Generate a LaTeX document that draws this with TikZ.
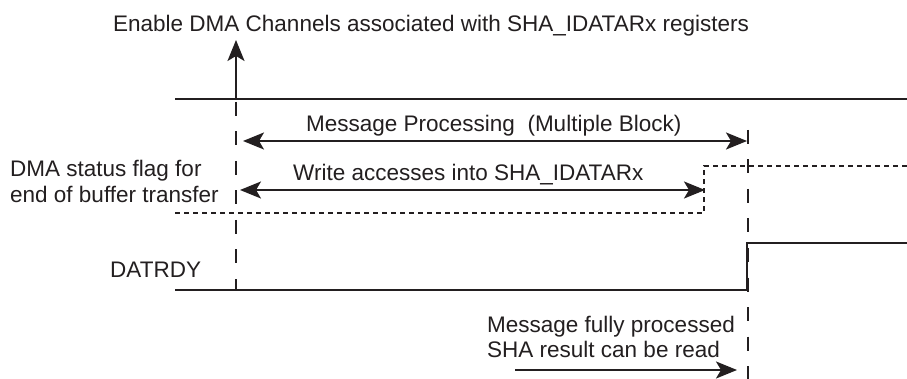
\documentclass[tikz,border=0pt]{standalone}
\usepackage{fontspec}
\setmainfont{Liberation Sans}
\usetikzlibrary{arrows.meta}
\definecolor{ink}{RGB}{35,31,32}
\begin{document}
\begin{tikzpicture}[x=1pt,y=-1pt,
  sig/.style={line width=2pt, draw=ink},
  guide/.style={line width=1.4pt, draw=ink, dash pattern=on 14pt off 15.5pt},
  flagline/.style={line width=2pt, draw=ink, dash pattern=on 5pt off 4pt},
  tipshape/.tip={Stealth[length=21pt,width=17pt,inset=5pt]},
  arr/.style={sig, -tipshape},
  darr/.style={sig, tipshape-tipshape},
  lbl/.style={font=\fontsize{22.5}{27}\selectfont, text=ink, inner sep=0pt, anchor=base west}]
\useasboundingbox (0,0) rectangle (907,379);
\fill[white] (0,0) rectangle (907,379);

% labels
\node[lbl] (enable) at (113,32) {Enable DMA Channels associated with SHA\_IDATARx registers};
\node[lbl] (msgp) at (306,132) {Message Processing\ \ (Multiple Block)};
\node[lbl] (wacc) at (293,181) {Write accesses into SHA\_IDATARx};
\node[lbl] (dma1) at (10,177) {DMA status flag for};
\node[lbl] (dma2) at (10,203) {end of buffer transfer};
\node[lbl] (datrdy) at (110,277) {DATRDY};
\node[lbl] (done1) at (487,332) {Message fully processed};
\node[lbl] (done2) at (487,357) {SHA result can be read};

% coordinates
\coordinate (t0) at (175,99);
\coordinate (t1) at (907,99);
\coordinate (up0) at (236,99);
\coordinate (up1) at (236,40);
\coordinate (gl0) at (236,102);
\coordinate (gl1) at (236,290);
\coordinate (gr0) at (748,130);
\coordinate (gr1) at (748,379);
\coordinate (m0) at (243,141);
\coordinate (m1) at (747,141);
\coordinate (w0) at (240,190);
\coordinate (w1) at (705,190);
\coordinate (f0) at (175,213);
\coordinate (f1) at (704,166);
\coordinate (f2) at (907,166);
\coordinate (d0) at (175,290);
\coordinate (d1) at (747,243);
\coordinate (d2) at (907,243);
\coordinate (b0) at (515,370);
\coordinate (b1) at (737,370);

% guides
\draw[guide] (gl0) -- (gl1);
\draw[guide] (gr0) -- (gr1);

% signals
\draw[sig] (t0) -- (t1);
\draw[arr] (up0) -- (up1);
\draw[flagline] (f0) -| (f1) -- (f2);
\draw[sig] (d0) -| (d1) -- (d2);

% arrows
\draw[darr] (m0) -- (m1);
\draw[darr] (w0) -- (w1);
\draw[arr] (b0) -- (b1);
\end{tikzpicture}
\end{document}
